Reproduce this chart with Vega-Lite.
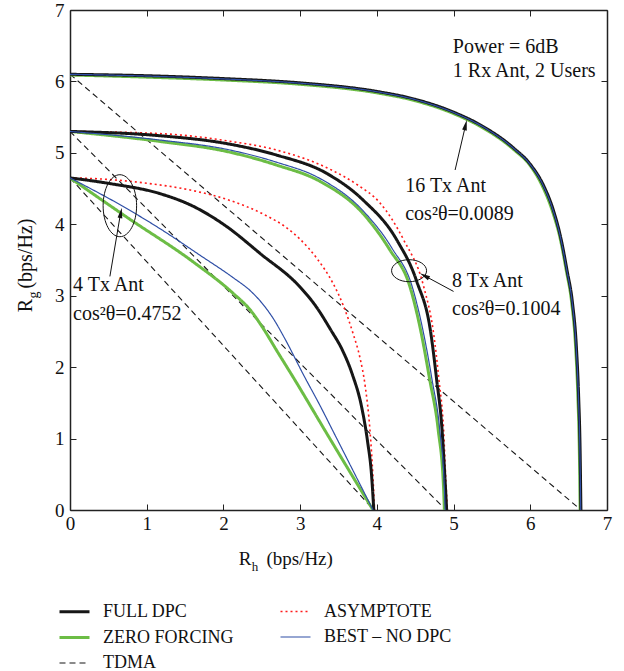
{
  "$schema": "https://vega.github.io/schema/vega-lite/v6.json",
  "width": 537,
  "height": 500,
  "autosize": {"type": "none"},
  "padding": {"left": 70, "top": 10, "right": 17, "bottom": 161},
  "config": {"font": "Liberation Serif", "view": {"stroke": null}},
  "resolve": {"axis": {"x": "independent", "y": "independent"}},
  "datasets": {
    "curves": [
      {"m": "TDMA", "a": "4", "x": 0, "y": 4.65}, {"m": "TDMA", "a": "4", "x": 3.96, "y": 0},
      {"m": "TDMA", "a": "8", "x": 0, "y": 5.3}, {"m": "TDMA", "a": "8", "x": 4.9, "y": 0},
      {"m": "TDMA", "a": "16", "x": 0, "y": 6.1}, {"m": "TDMA", "a": "16", "x": 6.66, "y": 0},

      {"m": "ASYMPTOTE", "a": "4", "x": 0, "y": 4.65}, {"m": "ASYMPTOTE", "a": "4", "x": 0.3, "y": 4.64}, {"m": "ASYMPTOTE", "a": "4", "x": 0.96, "y": 4.58}, {"m": "ASYMPTOTE", "a": "4", "x": 1.61, "y": 4.47}, {"m": "ASYMPTOTE", "a": "4", "x": 2.04, "y": 4.35}, {"m": "ASYMPTOTE", "a": "4", "x": 2.56, "y": 4.12}, {"m": "ASYMPTOTE", "a": "4", "x": 2.8, "y": 3.97}, {"m": "ASYMPTOTE", "a": "4", "x": 3.0, "y": 3.79}, {"m": "ASYMPTOTE", "a": "4", "x": 3.22, "y": 3.52}, {"m": "ASYMPTOTE", "a": "4", "x": 3.43, "y": 3.17}, {"m": "ASYMPTOTE", "a": "4", "x": 3.56, "y": 2.87}, {"m": "ASYMPTOTE", "a": "4", "x": 3.69, "y": 2.47}, {"m": "ASYMPTOTE", "a": "4", "x": 3.78, "y": 2.13}, {"m": "ASYMPTOTE", "a": "4", "x": 3.85, "y": 1.72}, {"m": "ASYMPTOTE", "a": "4", "x": 3.91, "y": 1.12}, {"m": "ASYMPTOTE", "a": "4", "x": 3.95, "y": 0.45}, {"m": "ASYMPTOTE", "a": "4", "x": 3.97, "y": 0},
      {"m": "ASYMPTOTE", "a": "8", "x": 0, "y": 5.3}, {"m": "ASYMPTOTE", "a": "8", "x": 1.17, "y": 5.27}, {"m": "ASYMPTOTE", "a": "8", "x": 2.04, "y": 5.17}, {"m": "ASYMPTOTE", "a": "8", "x": 2.69, "y": 5.04}, {"m": "ASYMPTOTE", "a": "8", "x": 3.39, "y": 4.77}, {"m": "ASYMPTOTE", "a": "8", "x": 3.75, "y": 4.55}, {"m": "ASYMPTOTE", "a": "8", "x": 4.04, "y": 4.3}, {"m": "ASYMPTOTE", "a": "8", "x": 4.35, "y": 3.78}, {"m": "ASYMPTOTE", "a": "8", "x": 4.61, "y": 3.13}, {"m": "ASYMPTOTE", "a": "8", "x": 4.74, "y": 2.47}, {"m": "ASYMPTOTE", "a": "8", "x": 4.81, "y": 1.82}, {"m": "ASYMPTOTE", "a": "8", "x": 4.87, "y": 1.12}, {"m": "ASYMPTOTE", "a": "8", "x": 4.9, "y": 0.4}, {"m": "ASYMPTOTE", "a": "8", "x": 4.92, "y": 0},

      {"m": "ZERO FORCING", "a": "4", "x": 0, "y": 4.65}, {"m": "ZERO FORCING", "a": "4", "x": 0.74, "y": 4.1}, {"m": "ZERO FORCING", "a": "4", "x": 1.61, "y": 3.47}, {"m": "ZERO FORCING", "a": "4", "x": 2.13, "y": 3.03}, {"m": "ZERO FORCING", "a": "4", "x": 2.35, "y": 2.8}, {"m": "ZERO FORCING", "a": "4", "x": 2.52, "y": 2.54}, {"m": "ZERO FORCING", "a": "4", "x": 2.69, "y": 2.24}, {"m": "ZERO FORCING", "a": "4", "x": 2.92, "y": 1.84}, {"m": "ZERO FORCING", "a": "4", "x": 3.37, "y": 1.03}, {"m": "ZERO FORCING", "a": "4", "x": 3.95, "y": 0},
      {"m": "ZERO FORCING", "a": "8", "x": 0, "y": 5.3}, {"m": "ZERO FORCING", "a": "8", "x": 1.17, "y": 5.16}, {"m": "ZERO FORCING", "a": "8", "x": 2.04, "y": 5.02}, {"m": "ZERO FORCING", "a": "8", "x": 2.69, "y": 4.83}, {"m": "ZERO FORCING", "a": "8", "x": 3.26, "y": 4.6}, {"m": "ZERO FORCING", "a": "8", "x": 3.82, "y": 4.15}, {"m": "ZERO FORCING", "a": "8", "x": 4.17, "y": 3.64}, {"m": "ZERO FORCING", "a": "8", "x": 4.43, "y": 3.13}, {"m": "ZERO FORCING", "a": "8", "x": 4.57, "y": 2.52}, {"m": "ZERO FORCING", "a": "8", "x": 4.69, "y": 1.82}, {"m": "ZERO FORCING", "a": "8", "x": 4.8, "y": 1.12}, {"m": "ZERO FORCING", "a": "8", "x": 4.87, "y": 0.3}, {"m": "ZERO FORCING", "a": "8", "x": 4.88, "y": 0},
      {"m": "ZERO FORCING", "a": "16", "x": 0, "y": 6.09}, {"m": "ZERO FORCING", "a": "16", "x": 1, "y": 6.06}, {"m": "ZERO FORCING", "a": "16", "x": 2, "y": 6.02}, {"m": "ZERO FORCING", "a": "16", "x": 3, "y": 5.96}, {"m": "ZERO FORCING", "a": "16", "x": 4, "y": 5.84}, {"m": "ZERO FORCING", "a": "16", "x": 4.5, "y": 5.73}, {"m": "ZERO FORCING", "a": "16", "x": 5, "y": 5.55}, {"m": "ZERO FORCING", "a": "16", "x": 5.35, "y": 5.37}, {"m": "ZERO FORCING", "a": "16", "x": 5.78, "y": 5.05}, {"m": "ZERO FORCING", "a": "16", "x": 6, "y": 4.82}, {"m": "ZERO FORCING", "a": "16", "x": 6.16, "y": 4.53}, {"m": "ZERO FORCING", "a": "16", "x": 6.29, "y": 4.18}, {"m": "ZERO FORCING", "a": "16", "x": 6.39, "y": 3.8}, {"m": "ZERO FORCING", "a": "16", "x": 6.47, "y": 3.35}, {"m": "ZERO FORCING", "a": "16", "x": 6.54, "y": 2.9}, {"m": "ZERO FORCING", "a": "16", "x": 6.59, "y": 2.3}, {"m": "ZERO FORCING", "a": "16", "x": 6.62, "y": 1.6}, {"m": "ZERO FORCING", "a": "16", "x": 6.64, "y": 0.8}, {"m": "ZERO FORCING", "a": "16", "x": 6.65, "y": 0},

      {"m": "FULL DPC", "a": "4", "x": 0, "y": 4.65}, {"m": "FULL DPC", "a": "4", "x": 0.52, "y": 4.57}, {"m": "FULL DPC", "a": "4", "x": 1.17, "y": 4.43}, {"m": "FULL DPC", "a": "4", "x": 1.61, "y": 4.25}, {"m": "FULL DPC", "a": "4", "x": 2.04, "y": 3.97}, {"m": "FULL DPC", "a": "4", "x": 2.48, "y": 3.59}, {"m": "FULL DPC", "a": "4", "x": 3.0, "y": 3.12}, {"m": "FULL DPC", "a": "4", "x": 3.2, "y": 2.86}, {"m": "FULL DPC", "a": "4", "x": 3.4, "y": 2.52}, {"m": "FULL DPC", "a": "4", "x": 3.55, "y": 2.24}, {"m": "FULL DPC", "a": "4", "x": 3.68, "y": 1.9}, {"m": "FULL DPC", "a": "4", "x": 3.8, "y": 1.45}, {"m": "FULL DPC", "a": "4", "x": 3.88, "y": 0.95}, {"m": "FULL DPC", "a": "4", "x": 3.93, "y": 0.5}, {"m": "FULL DPC", "a": "4", "x": 3.96, "y": 0},
      {"m": "FULL DPC", "a": "8", "x": 0, "y": 5.3}, {"m": "FULL DPC", "a": "8", "x": 1.17, "y": 5.24}, {"m": "FULL DPC", "a": "8", "x": 2.04, "y": 5.13}, {"m": "FULL DPC", "a": "8", "x": 2.69, "y": 4.97}, {"m": "FULL DPC", "a": "8", "x": 3.35, "y": 4.71}, {"m": "FULL DPC", "a": "8", "x": 3.82, "y": 4.34}, {"m": "FULL DPC", "a": "8", "x": 4.26, "y": 3.78}, {"m": "FULL DPC", "a": "8", "x": 4.52, "y": 3.2}, {"m": "FULL DPC", "a": "8", "x": 4.7, "y": 2.5}, {"m": "FULL DPC", "a": "8", "x": 4.78, "y": 1.82}, {"m": "FULL DPC", "a": "8", "x": 4.85, "y": 1.12}, {"m": "FULL DPC", "a": "8", "x": 4.89, "y": 0.4}, {"m": "FULL DPC", "a": "8", "x": 4.91, "y": 0},
      {"m": "FULL DPC", "a": "16", "x": 0, "y": 6.1}, {"m": "FULL DPC", "a": "16", "x": 1, "y": 6.08}, {"m": "FULL DPC", "a": "16", "x": 2, "y": 6.04}, {"m": "FULL DPC", "a": "16", "x": 3, "y": 5.98}, {"m": "FULL DPC", "a": "16", "x": 4, "y": 5.86}, {"m": "FULL DPC", "a": "16", "x": 4.5, "y": 5.75}, {"m": "FULL DPC", "a": "16", "x": 5, "y": 5.57}, {"m": "FULL DPC", "a": "16", "x": 5.35, "y": 5.39}, {"m": "FULL DPC", "a": "16", "x": 5.78, "y": 5.07}, {"m": "FULL DPC", "a": "16", "x": 6, "y": 4.84}, {"m": "FULL DPC", "a": "16", "x": 6.17, "y": 4.55}, {"m": "FULL DPC", "a": "16", "x": 6.3, "y": 4.2}, {"m": "FULL DPC", "a": "16", "x": 6.4, "y": 3.8}, {"m": "FULL DPC", "a": "16", "x": 6.48, "y": 3.35}, {"m": "FULL DPC", "a": "16", "x": 6.55, "y": 2.9}, {"m": "FULL DPC", "a": "16", "x": 6.6, "y": 2.3}, {"m": "FULL DPC", "a": "16", "x": 6.63, "y": 1.6}, {"m": "FULL DPC", "a": "16", "x": 6.65, "y": 0.8}, {"m": "FULL DPC", "a": "16", "x": 6.66, "y": 0},

      {"m": "BEST – NO DPC", "a": "4", "x": 0, "y": 4.65}, {"m": "BEST – NO DPC", "a": "4", "x": 0.74, "y": 4.22}, {"m": "BEST – NO DPC", "a": "4", "x": 1.2, "y": 3.92}, {"m": "BEST – NO DPC", "a": "4", "x": 1.69, "y": 3.57}, {"m": "BEST – NO DPC", "a": "4", "x": 2.13, "y": 3.25}, {"m": "BEST – NO DPC", "a": "4", "x": 2.35, "y": 3.07}, {"m": "BEST – NO DPC", "a": "4", "x": 2.5, "y": 2.9}, {"m": "BEST – NO DPC", "a": "4", "x": 2.65, "y": 2.68}, {"m": "BEST – NO DPC", "a": "4", "x": 2.8, "y": 2.4}, {"m": "BEST – NO DPC", "a": "4", "x": 3.04, "y": 1.9}, {"m": "BEST – NO DPC", "a": "4", "x": 3.26, "y": 1.46}, {"m": "BEST – NO DPC", "a": "4", "x": 3.44, "y": 1.08}, {"m": "BEST – NO DPC", "a": "4", "x": 3.95, "y": 0},
      {"m": "BEST – NO DPC", "a": "8", "x": 0, "y": 5.3}, {"m": "BEST – NO DPC", "a": "8", "x": 1.17, "y": 5.18}, {"m": "BEST – NO DPC", "a": "8", "x": 2.04, "y": 5.05}, {"m": "BEST – NO DPC", "a": "8", "x": 2.69, "y": 4.87}, {"m": "BEST – NO DPC", "a": "8", "x": 3.26, "y": 4.64}, {"m": "BEST – NO DPC", "a": "8", "x": 3.82, "y": 4.19}, {"m": "BEST – NO DPC", "a": "8", "x": 4.2, "y": 3.66}, {"m": "BEST – NO DPC", "a": "8", "x": 4.46, "y": 3.13}, {"m": "BEST – NO DPC", "a": "8", "x": 4.6, "y": 2.52}, {"m": "BEST – NO DPC", "a": "8", "x": 4.72, "y": 1.82}, {"m": "BEST – NO DPC", "a": "8", "x": 4.82, "y": 1.12}, {"m": "BEST – NO DPC", "a": "8", "x": 4.88, "y": 0.3}, {"m": "BEST – NO DPC", "a": "8", "x": 4.89, "y": 0},
      {"m": "BEST – NO DPC", "a": "16", "x": 0, "y": 6.1}, {"m": "BEST – NO DPC", "a": "16", "x": 1, "y": 6.075}, {"m": "BEST – NO DPC", "a": "16", "x": 2, "y": 6.035}, {"m": "BEST – NO DPC", "a": "16", "x": 3, "y": 5.975}, {"m": "BEST – NO DPC", "a": "16", "x": 4, "y": 5.855}, {"m": "BEST – NO DPC", "a": "16", "x": 4.5, "y": 5.745}, {"m": "BEST – NO DPC", "a": "16", "x": 5, "y": 5.565}, {"m": "BEST – NO DPC", "a": "16", "x": 5.35, "y": 5.385}, {"m": "BEST – NO DPC", "a": "16", "x": 5.78, "y": 5.065}, {"m": "BEST – NO DPC", "a": "16", "x": 6, "y": 4.835}, {"m": "BEST – NO DPC", "a": "16", "x": 6.168, "y": 4.545}, {"m": "BEST – NO DPC", "a": "16", "x": 6.297, "y": 4.195}, {"m": "BEST – NO DPC", "a": "16", "x": 6.397, "y": 3.8}, {"m": "BEST – NO DPC", "a": "16", "x": 6.477, "y": 3.35}, {"m": "BEST – NO DPC", "a": "16", "x": 6.547, "y": 2.9}, {"m": "BEST – NO DPC", "a": "16", "x": 6.597, "y": 2.3}, {"m": "BEST – NO DPC", "a": "16", "x": 6.627, "y": 1.6}, {"m": "BEST – NO DPC", "a": "16", "x": 6.647, "y": 0.8}, {"m": "BEST – NO DPC", "a": "16", "x": 6.657, "y": 0}
    ]
  },
  "layer": [
    {
      "data": {"name": "curves"},
      "mark": {"type": "line", "clip": true, "interpolate": "monotone"},
      "encoding": {
        "x": {"field": "x", "type": "quantitative", "scale": {"domain": [0, 7], "nice": false},
          "axis": {"orient": "bottom", "values": [0, 1, 2, 3, 4, 5, 6, 7], "tickSize": -6, "labelFontSize": 19, "labelPadding": 10, "labelColor": "#111", "domainColor": "#222", "tickColor": "#222", "domainWidth": 1.5, "grid": false, "title": null, "labelFlush": false}},
        "y": {"field": "y", "type": "quantitative", "scale": {"domain": [0, 7], "nice": false},
          "axis": {"orient": "left", "values": [0, 1, 2, 3, 4, 5, 6, 7], "tickSize": -6, "labelFontSize": 19, "labelPadding": 12, "labelColor": "#111", "domainColor": "#222", "tickColor": "#222", "domainWidth": 1.5, "grid": false, "title": null, "labelFlush": false}},
        "color": {"field": "m", "type": "nominal",
          "scale": {"domain": ["FULL DPC", "ZERO FORCING", "TDMA", "ASYMPTOTE", "BEST – NO DPC"], "range": ["#161616", "#6cbd45", "#161616", "#ff1a1a", "#2f4fa6"]},
          "legend": {"orient": "none", "legendX": -12, "legendY": 585, "columns": 2, "title": null, "symbolType": "stroke", "symbolSize": 900, "labelFontSize": 18, "labelFont": "Liberation Serif", "labelColor": "#111", "labelOffset": 12, "columnPadding": 43, "rowPadding": -4, "padding": 0}},
        "strokeDash": {"field": "m", "type": "nominal",
          "scale": {"domain": ["FULL DPC", "ZERO FORCING", "TDMA", "ASYMPTOTE", "BEST – NO DPC"], "range": [[1, 0], [1, 0], [6, 4], [2, 3], [1, 0]]},
          "legend": {"orient": "none", "legendX": -12, "legendY": 585, "columns": 2, "title": null, "symbolType": "stroke", "symbolSize": 900, "labelFontSize": 18, "labelFont": "Liberation Serif", "labelColor": "#111", "labelOffset": 12, "columnPadding": 43, "rowPadding": -4, "padding": 0}},
        "strokeWidth": {"field": "m", "type": "nominal",
          "scale": {"type": "ordinal", "domain": ["FULL DPC", "ZERO FORCING", "TDMA", "ASYMPTOTE", "BEST – NO DPC"], "range": [3, 3, 1.1, 1.6, 1.2]},
          "legend": {"orient": "none", "legendX": -12, "legendY": 585, "columns": 2, "title": null, "symbolType": "stroke", "symbolSize": 900, "labelFontSize": 18, "labelFont": "Liberation Serif", "labelColor": "#111", "labelOffset": 12, "columnPadding": 43, "rowPadding": -4, "padding": 0}},
        "detail": {"field": "a", "type": "nominal"}
      }
    },
    {
      "data": {"values": [{"x": 0.65, "y": 4.26}]},
      "mark": {"type": "point", "shape": "M0,-1 A0.54,1 0 1,1 0,1 A0.54,1 0 1,1 0,-1 Z", "size": 3844, "filled": false, "stroke": "#111", "strokeWidth": 1, "opacity": 1},
      "encoding": {
        "x": {"field": "x", "type": "quantitative", "axis": {"orient": "top", "values": [0, 1, 2, 3, 4, 5, 6, 7], "tickSize": -6, "labels": false, "domainColor": "#222", "tickColor": "#222", "domainWidth": 1.5, "grid": false, "title": null}},
        "y": {"field": "y", "type": "quantitative", "axis": {"orient": "right", "values": [0, 1, 2, 3, 4, 5, 6, 7], "tickSize": -6, "labels": false, "domainColor": "#222", "tickColor": "#222", "domainWidth": 1.5, "grid": false, "title": null}}
      }
    },
    {
      "data": {"values": [{"x": 4.42, "y": 3.35}]},
      "mark": {"type": "point", "shape": "M-1,0 A1,0.63 0 1,1 1,0 A1,0.63 0 1,1 -1,0 Z", "size": 1225, "filled": false, "stroke": "#111", "strokeWidth": 1, "opacity": 1},
      "encoding": {
        "x": {"field": "x", "type": "quantitative", "axis": null},
        "y": {"field": "y", "type": "quantitative", "axis": null}
      }
    },
    {
      "data": {"values": [
        {"x": 0.52, "y": 3.27, "x2": 0.66, "y2": 4.16},
        {"x": 5.02, "y": 4.76, "x2": 5.157, "y2": 5.39},
        {"x": 5.0, "y": 3.06, "x2": 4.62, "y2": 3.28}
      ]},
      "mark": {"type": "rule", "color": "#111", "strokeWidth": 1},
      "encoding": {
        "x": {"field": "x", "type": "quantitative", "axis": null},
        "y": {"field": "y", "type": "quantitative", "axis": null},
        "x2": {"field": "x2"},
        "y2": {"field": "y2"}
      }
    },
    {
      "data": {"values": [{"x": 0.663, "y": 4.16}]},
      "mark": {"type": "point", "shape": "M0,-1 L0.45,1 L-0.45,1 Z", "size": 110, "filled": true, "color": "#111", "opacity": 1, "angle": 10},
      "encoding": {"x": {"field": "x", "type": "quantitative", "axis": null}, "y": {"field": "y", "type": "quantitative", "axis": null}}
    },
    {
      "data": {"values": [{"x": 5.157, "y": 5.39}]},
      "mark": {"type": "point", "shape": "M0,-1 L0.45,1 L-0.45,1 Z", "size": 110, "filled": true, "color": "#111", "opacity": 1, "angle": 13},
      "encoding": {"x": {"field": "x", "type": "quantitative", "axis": null}, "y": {"field": "y", "type": "quantitative", "axis": null}}
    },
    {
      "data": {"values": [{"x": 4.62, "y": 3.28}]},
      "mark": {"type": "point", "shape": "M0,-1 L0.45,1 L-0.45,1 Z", "size": 110, "filled": true, "color": "#111", "opacity": 1, "angle": 299},
      "encoding": {"x": {"field": "x", "type": "quantitative", "axis": null}, "y": {"field": "y", "type": "quantitative", "axis": null}}
    },
    {
      "data": {"values": [
        {"x": 4.99, "y": 6.4, "t": "Power = 6dB"},
        {"x": 4.99, "y": 6.06, "t": "1 Rx Ant, 2 Users"},
        {"x": 4.37, "y": 4.45, "t": "16 Tx Ant"},
        {"x": 4.37, "y": 4.06, "t": "cos²θ=0.0089"},
        {"x": 4.98, "y": 3.12, "t": "8 Tx Ant"},
        {"x": 4.98, "y": 2.73, "t": "cos²θ=0.1004"},
        {"x": 0.04, "y": 3.06, "t": "4 Tx Ant"},
        {"x": 0.04, "y": 2.66, "t": "cos²θ=0.4752"}
      ]},
      "mark": {"type": "text", "align": "left", "baseline": "alphabetic", "fontSize": 20, "color": "#111"},
      "encoding": {
        "x": {"field": "x", "type": "quantitative", "axis": null},
        "y": {"field": "y", "type": "quantitative", "axis": null},
        "text": {"field": "t"}
      }
    },
    {
      "data": {"values": [{"x": 2.2, "y": -0.77, "t": "R"}, {"x": 2.56, "y": -0.77, "t": "(bps/Hz)"}]},
      "mark": {"type": "text", "align": "left", "baseline": "alphabetic", "fontSize": 19, "color": "#111"},
      "encoding": {"x": {"field": "x", "type": "quantitative", "axis": null}, "y": {"field": "y", "type": "quantitative", "axis": null}, "text": {"field": "t"}}
    },
    {
      "data": {"values": [{"x": 2.37, "y": -0.85, "t": "h"}]},
      "mark": {"type": "text", "align": "left", "baseline": "alphabetic", "fontSize": 13, "color": "#111"},
      "encoding": {"x": {"field": "x", "type": "quantitative", "axis": null}, "y": {"field": "y", "type": "quantitative", "axis": null}, "text": {"field": "t"}}
    },
    {
      "data": {"values": [{"x": -0.49, "y": 2.77, "t": "R"}, {"x": -0.49, "y": 3.1, "t": "(bps/Hz)"}]},
      "mark": {"type": "text", "align": "left", "baseline": "alphabetic", "fontSize": 20, "angle": 270, "color": "#111"},
      "encoding": {"x": {"field": "x", "type": "quantitative", "axis": null}, "y": {"field": "y", "type": "quantitative", "axis": null}, "text": {"field": "t"}}
    },
    {
      "data": {"values": [{"x": -0.42, "y": 2.96, "t": "g"}]},
      "mark": {"type": "text", "align": "left", "baseline": "alphabetic", "fontSize": 14, "angle": 270, "color": "#111"},
      "encoding": {"x": {"field": "x", "type": "quantitative", "axis": null}, "y": {"field": "y", "type": "quantitative", "axis": null}, "text": {"field": "t"}}
    }
  ]
}
